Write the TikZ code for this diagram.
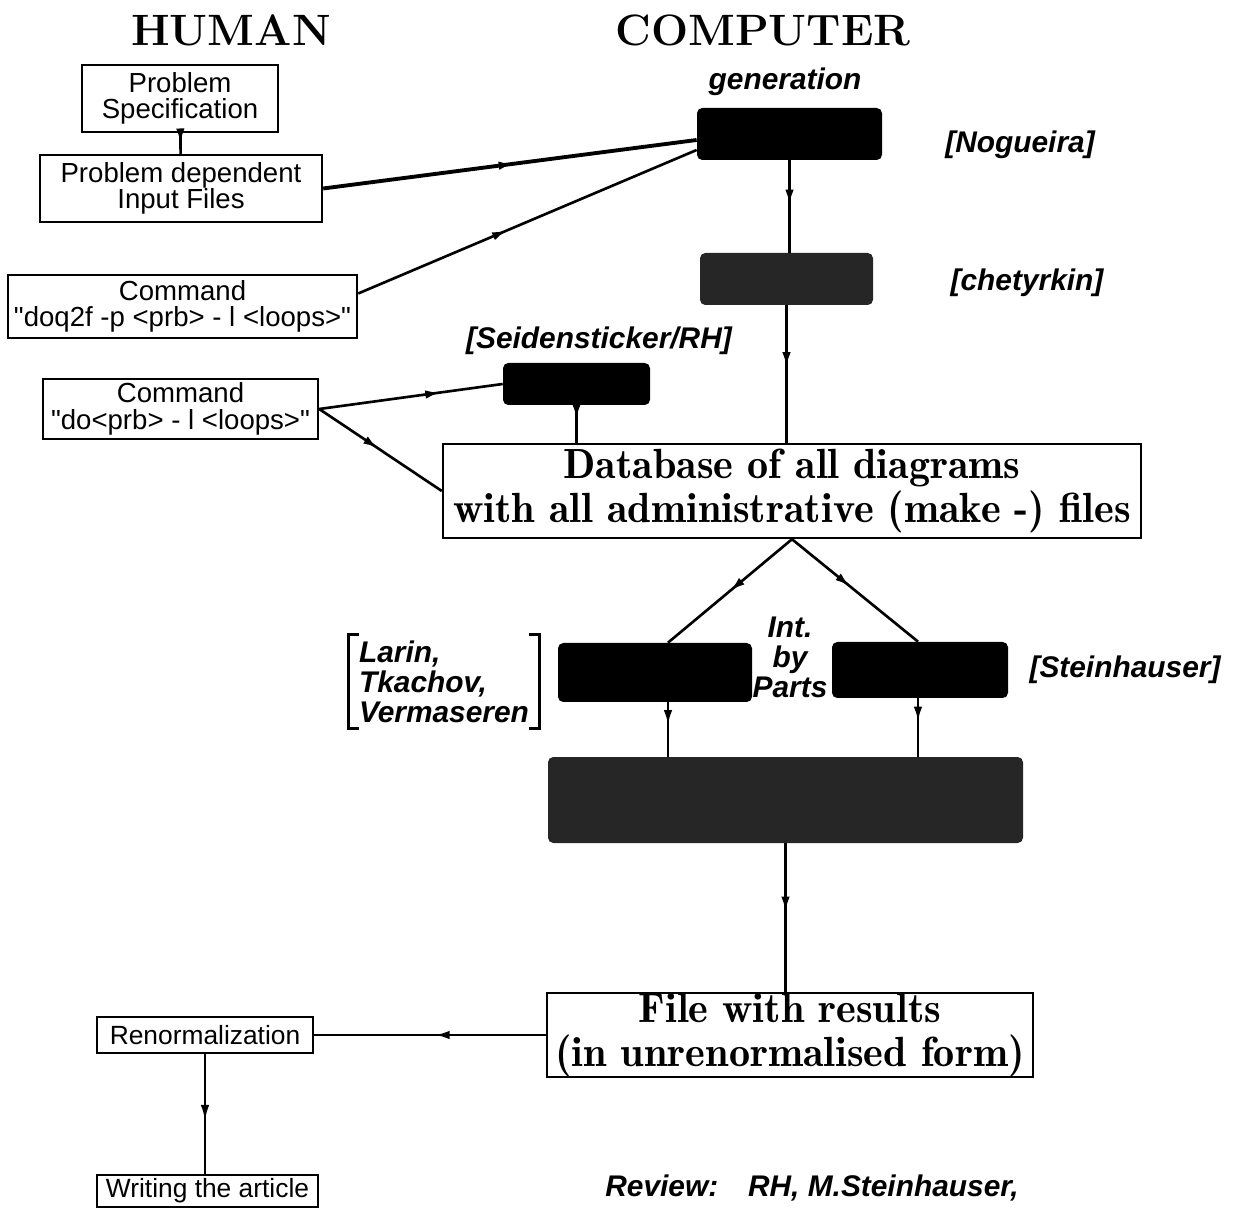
\documentclass[tikz,border=0pt]{standalone}
\usepackage{fontspec}
\setsansfont{Liberation Sans}
\newfontfamily\handfont{Liberation Sans}
\newfontfamily\boxserif{lmromandemi10-regular.otf}
\usepackage{tikz}
\usetikzlibrary{arrows.meta,decorations.markings}

\tikzset{
  hbox/.style={draw, line width=1.4pt, inner sep=0pt, align=center, font=\sffamily\fontsize{15.7}{15}\selectfont},
  cbox/.style={draw, line width=1.4pt, inner sep=0pt, align=center, font=\boxserif\fontsize{24}{25}\selectfont},
  blackbox/.style={fill=black, rounded corners=3pt, inner sep=0pt},
  hand/.style={font=\handfont\bfseries\itshape\fontsize{17}{17}\selectfont, align=left},
  flow/.style={postaction={decorate}, decoration={markings, mark=at position #1 with {\arrow{Latex[length=3mm,width=1.7mm]}}}},
  flow/.default=0.5,
  conn/.style={line width=1.5pt}
}

\begin{document}
\begin{tikzpicture}
\useasboundingbox (0,0) rectangle (25,24.18);
\node (human) at (4.62,23.58) {\bfseries\fontsize{25}{25}\selectfont HUMAN};
\node (computer) at (15.26,23.58) {\bfseries\fontsize{25}{25}\selectfont COMPUTER};

\node[hbox, minimum width=3.92cm, minimum height=1.34cm] (spec) at (3.60,22.21) {Problem\\Specification};
\node[hbox, minimum width=5.64cm, minimum height=1.34cm] (input) at (3.62,20.41) {Problem dependent\\Input Files};
\node[hbox, minimum width=6.98cm, minimum height=1.26cm] (cmdq) at (3.65,18.05) {Command\\\textquotedbl doq2f -p <prb> - l <loops>\textquotedbl};
\node[hbox, minimum width=5.5cm, minimum height=1.2cm] (cmdd) at (3.61,16.0) {Command\\\textquotedbl do<prb> - l <loops>\textquotedbl};

\node[blackbox, minimum width=3.7cm, minimum height=1.04cm] (gen) at (15.79,21.50) {};
\node[blackbox, fill=black!85, minimum width=3.46cm, minimum height=1.04cm] (chet) at (15.73,18.6) {};
\node[blackbox, minimum width=2.94cm, minimum height=0.84cm] (seid) at (11.53,16.5) {};
\node[cbox, minimum width=13.96cm, minimum height=1.88cm] (db) at (15.84,14.36) {Database of all diagrams\\with all administrative (make -) files};
\node[blackbox, minimum width=3.88cm, minimum height=1.18cm] (ibp) at (13.10,10.73) {};
\node[blackbox, minimum width=3.52cm, minimum height=1.12cm] (mt) at (18.40,10.78) {};
\node[blackbox, fill=black!85, minimum width=9.5cm, minimum height=1.72cm] (sum) at (15.71,8.18) {};
\node[cbox, minimum width=9.72cm, minimum height=1.68cm] (res) at (15.80,3.48) {File with results\\(in unrenormalised form)};
\node[hbox, font=\sffamily\fontsize{15}{15}\selectfont, minimum width=4.32cm, minimum height=0.72cm] (renorm) at (4.10,3.48) {Renormalization};
\node[hbox, font=\sffamily\fontsize{15}{15}\selectfont, minimum width=4.42cm, minimum height=0.64cm] (article) at (4.15,0.36) {Writing the article};

\node[hand] (genlbl) at (15.70,22.54) {generation};
\node[hand] (nog) at (20.40,21.28) {[Nogueira]};
\node[hand] (chetlbl) at (20.54,18.52) {[chetyrkin]};
\node[hand] (seidlbl) at (11.98,17.36) {[Seidensticker/RH]};
\node[hand, inner xsep=0.2cm] (llv) at (8.88,10.55) {Larin,\\Tkachov,\\Vermaseren};
\draw[line width=1.6pt] ([xshift=0.2cm]llv.north west) -- (llv.north west) -- (llv.south west) -- ([xshift=0.2cm]llv.south west);
\draw[line width=1.6pt] ([xshift=-0.2cm]llv.north east) -- (llv.north east) -- (llv.south east) -- ([xshift=-0.2cm]llv.south east);
\node[hand, align=center] (ibplbl) at (15.80,11.04) {Int.\\by\\Parts};
\node[hand] (mtlbl) at (22.5,10.78) {[Steinhauser]};
\node[hand] (review) at (16.24,0.42) {Review:\quad RH, M.Steinhauser,};

\draw[conn, flow] (spec) -- (input);
\draw[conn, line width=2.2pt, flow=0.51] (input.east) -- ([yshift=-0.12cm]gen.west);
\draw[conn, flow=0.44] ([yshift=0.26cm]cmdq.east) -- ([yshift=-0.32cm]gen.west);
\draw[conn, flow=0.48] (gen.south) -- (gen.south |- chet.north);
\draw[conn, flow=0.45] (chet.south) -- (chet.south |- db.north);
\draw[conn, flow=0.66] (cmdd.east) -- (seid.west);
\draw[conn, flow=0.48] (cmdd.east) -- (db.west);
\draw[conn, flow=0.37] (seid.south) -- (seid.south |- db.north);
\draw[conn, flow] (db.south) -- ([xshift=0.26cm]ibp.north);
\draw[conn, flow=0.46] (db.south) -- ([xshift=-0.04cm]mt.north);
\draw[conn, flow=0.42] ([xshift=0.26cm]ibp.south) -- ([xshift=0.26cm]ibp.south |- sum.north);
\draw[conn, flow=0.4] ([xshift=-0.04cm]mt.south) -- ([xshift=-0.04cm]mt.south |- sum.north);
\draw[conn, flow=0.46] (sum.south) -- (sum.south |- res.north);
\draw[conn, flow=0.48] (res.west) -- (renorm.east);
\draw[conn, line width=1pt, flow=0.55] (renorm.south) -- (renorm.south |- article.north);
\end{tikzpicture}
\end{document}
